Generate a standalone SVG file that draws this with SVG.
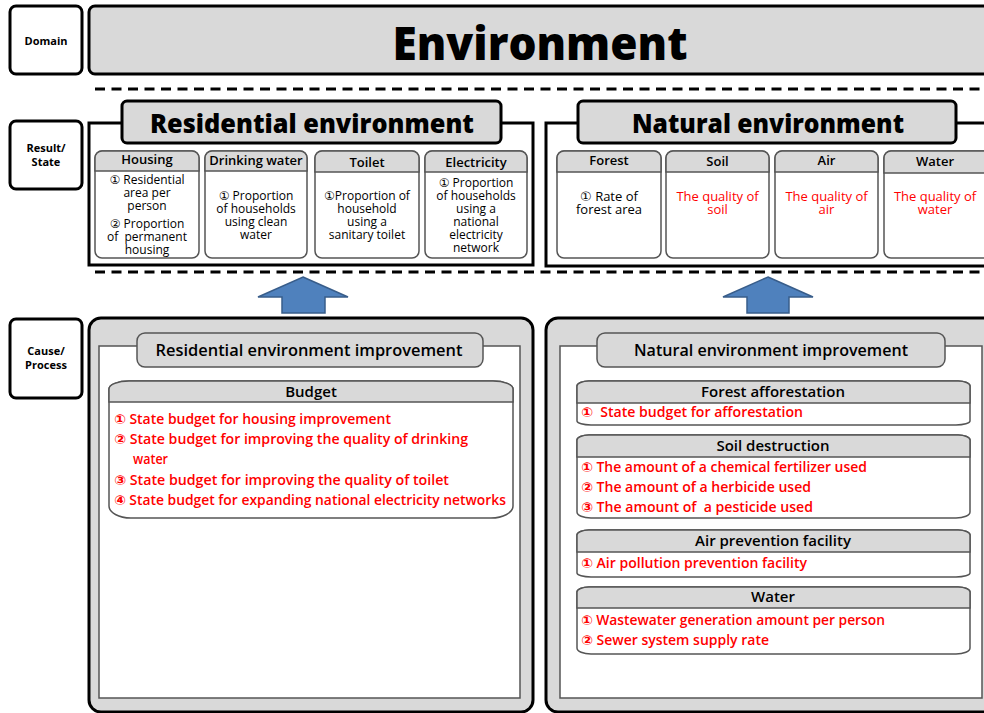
<svg xmlns="http://www.w3.org/2000/svg" width="984" height="713" viewBox="0 0 984 713">
<style>
text{font-family:"Open Sans","Noto Sans","DejaVu Sans","Noto Sans CJK KR",sans-serif;text-anchor:middle;fill:#000}
.lab{font-size:11px;font-weight:700}
.big{font-weight:800}
.hd{font-size:13px;font-weight:600}
.hd2{font-size:15px;font-weight:600}
.bd{font-size:12px;font-weight:500}
.bd13{font-size:13px;font-weight:500}
.red{fill:#ff0000}
.it{font-size:13.5px;font-weight:600;fill:#ff0000;text-anchor:start}
.sec{font-size:16.5px;font-weight:600}
.box{fill:#fff;stroke:#000;stroke-width:3}
.gbox{fill:#d9d9d9;stroke:#000;stroke-width:3}
.sub{fill:#fff;stroke:#555;stroke-width:1.5}
.subh{fill:#d9d9d9;stroke:#555;stroke-width:1.5}
.dash{stroke:#000;stroke-width:3;stroke-dasharray:10 6.5;fill:none}
.arrow{fill:#4f81bd;stroke:#385d8a;stroke-width:1.5}
</style>

<g id="domain-label"><rect class="box" x="10" y="6" width="72" height="68" rx="6"/><text class="lab" x="46" y="45">Domain</text></g>
<g id="environment"><rect class="gbox" x="89" y="6" width="920" height="68" rx="6"/><text class="big" x="540" y="60" font-size="46" textLength="295" lengthAdjust="spacingAndGlyphs">Environment</text></g>

<g id="separators">
<line class="dash" x1="95" y1="89" x2="984" y2="89"/>
<line class="dash" x1="95" y1="272" x2="984" y2="272"/>
</g>

<g id="result-label"><rect class="box" x="10" y="121" width="72" height="68" rx="6"/><text class="lab" x="46" y="152">Result/<tspan x="46" dy="14">State</tspan></text></g>

<g id="residential-environment">
<rect class="box" x="89" y="123" width="444" height="142"/>
<rect class="gbox" x="122" y="101" width="379" height="42" rx="5"/>
<text class="big" x="312" y="133" font-size="26" textLength="324" lengthAdjust="spacingAndGlyphs">Residential environment</text>
</g>

<g id="housing">
<rect class="sub" x="95" y="151" width="104" height="107" rx="7"/>
<path class="subh" d="M95,171 V158 a7,7 0 0 1 7,-7 H192 a7,7 0 0 1 7,7 V171 Z"/>
<text class="hd" x="147" y="164">Housing</text>
<text class="bd" x="147" y="184" xml:space="preserve">① Residential<tspan x="147" dy="13">area per</tspan><tspan x="147" dy="13">person</tspan><tspan x="147" dy="18">② Proportion</tspan><tspan x="147" dy="13">of  permanent</tspan><tspan x="147" dy="13">housing</tspan></text>
</g>
<g id="drinking-water">
<rect class="sub" x="205" y="151" width="102" height="107" rx="7"/>
<path class="subh" d="M205,171 V158 a7,7 0 0 1 7,-7 H300 a7,7 0 0 1 7,7 V171 Z"/>
<text class="hd" x="256" y="165">Drinking water</text>
<text class="bd" x="256" y="200">① Proportion<tspan x="256" dy="13">of households</tspan><tspan x="256" dy="13">using clean</tspan><tspan x="256" dy="13">water</tspan></text>
</g>
<g id="toilet">
<rect class="sub" x="315" y="151" width="104" height="107" rx="7"/>
<path class="subh" d="M315,172 V158 a7,7 0 0 1 7,-7 H412 a7,7 0 0 1 7,7 V172 Z"/>
<text class="hd" x="367" y="167">Toilet</text>
<text class="bd" x="367" y="200">①Proportion of<tspan x="367" dy="13">household</tspan><tspan x="367" dy="13">using a</tspan><tspan x="367" dy="13">sanitary toilet</tspan></text>
</g>
<g id="electricity">
<rect class="sub" x="425" y="151" width="102" height="107" rx="7"/>
<path class="subh" d="M425,172 V158 a7,7 0 0 1 7,-7 H520 a7,7 0 0 1 7,7 V172 Z"/>
<text class="hd" x="476" y="167">Electricity</text>
<text class="bd" x="476" y="187">① Proportion<tspan x="476" dy="13">of households</tspan><tspan x="476" dy="13">using a</tspan><tspan x="476" dy="13">national</tspan><tspan x="476" dy="13">electricity</tspan><tspan x="476" dy="13">network</tspan></text>
</g>

<g id="natural-environment">
<rect class="box" x="546" y="123" width="460" height="143"/>
<rect class="gbox" x="578" y="101" width="378" height="42" rx="5"/>
<text class="big" x="768" y="133" font-size="26" textLength="272" lengthAdjust="spacingAndGlyphs">Natural environment</text>
</g>

<g id="forest">
<rect class="sub" x="557" y="151" width="104" height="107" rx="7"/>
<path class="subh" d="M557,172 V158 a7,7 0 0 1 7,-7 H654 a7,7 0 0 1 7,7 V172 Z"/>
<text class="hd" x="609" y="165">Forest</text>
<text class="bd13" x="609" y="201">① Rate of<tspan x="609" dy="13">forest area</tspan></text>
</g>
<g id="soil">
<rect class="sub" x="666" y="151" width="103" height="107" rx="7"/>
<path class="subh" d="M666,172 V158 a7,7 0 0 1 7,-7 H762 a7,7 0 0 1 7,7 V172 Z"/>
<text class="hd" x="717.5" y="166">Soil</text>
<text class="bd13 red" x="717.5" y="201">The quality of<tspan x="717.5" dy="13">soil</tspan></text>
</g>
<g id="air">
<rect class="sub" x="775" y="151" width="103" height="107" rx="7"/>
<path class="subh" d="M775,172 V158 a7,7 0 0 1 7,-7 H871 a7,7 0 0 1 7,7 V172 Z"/>
<text class="hd" x="826.5" y="165">Air</text>
<text class="bd13 red" x="826.5" y="201">The quality of<tspan x="826.5" dy="13">air</tspan></text>
</g>
<g id="water">
<rect class="sub" x="884" y="151" width="110" height="107" rx="7"/>
<path class="subh" d="M884,173 V158 a7,7 0 0 1 7,-7 H987 a7,7 0 0 1 7,7 V173 Z"/>
<text class="hd" x="935" y="166">Water</text>
<text class="bd13 red" x="935" y="201">The quality of<tspan x="935" dy="13">water</tspan></text>
</g>

<g id="connectors">
<polygon class="arrow" points="303,277 348,297 325,297 325,313 282,313 282,297 258,297"/>
<polygon class="arrow" points="768,277 813,297 789,297 789,313 747,313 747,297 723,297"/>
</g>

<g id="cause-label"><rect class="box" x="10" y="319" width="72" height="79" rx="6"/><text class="lab" x="46" y="355">Cause/<tspan x="46" dy="14">Process</tspan></text></g>

<g id="residential-improvement">
<rect class="gbox" x="89" y="318" width="444" height="394" rx="12"/>
<rect x="99" y="346" width="421" height="352" fill="#fff" stroke="#555" stroke-width="1.5"/>
<rect x="137" y="333" width="346" height="34" rx="8" fill="#d9d9d9" stroke="#555" stroke-width="1.5"/>
<text class="sec" x="309" y="356" textLength="307" lengthAdjust="spacingAndGlyphs">Residential environment improvement</text>
</g>
<g id="budget">
<path d="M109,389 A20,8 0 0 1 129,381 H493 A20,8 0 0 1 513,389 V506 A22,12 0 0 1 491,518 H131 A22,12 0 0 1 109,506 Z" fill="#fff" stroke="#555" stroke-width="1.5"/>
<path d="M109,402 V389 A20,8 0 0 1 129,381 H493 A20,8 0 0 1 513,389 V402 Z" fill="#d9d9d9" stroke="#555" stroke-width="1.5"/>
<text class="hd2" x="311" y="397">Budget</text>
<text class="it" x="114" y="424" textLength="277" lengthAdjust="spacingAndGlyphs">① State budget for housing improvement</text>
<text class="it" x="114" y="444" textLength="354" lengthAdjust="spacingAndGlyphs">② State budget for improving the quality of drinking</text>
<text class="it" x="133" y="464" textLength="35" lengthAdjust="spacingAndGlyphs">water</text>
<text class="it" x="114" y="485" textLength="335" lengthAdjust="spacingAndGlyphs">③ State budget for improving the quality of toilet</text>
<text class="it" x="114" y="505" textLength="392" lengthAdjust="spacingAndGlyphs">④ State budget for expanding national electricity networks</text>
</g>

<g id="natural-improvement">
<rect class="gbox" x="546" y="318" width="460" height="394" rx="12"/>
<rect x="560" y="346" width="422" height="352" fill="#fff" stroke="#555" stroke-width="1.5"/>
<rect x="597" y="333" width="348" height="34" rx="8" fill="#d9d9d9" stroke="#555" stroke-width="1.5"/>
<text class="sec" x="771" y="356" textLength="274" lengthAdjust="spacingAndGlyphs">Natural environment improvement</text>
</g>
<g id="forest-afforestation">
<path d="M577,386 A12,5 0 0 1 589,381 H958 A12,5 0 0 1 970,386 V421 A14,4 0 0 1 956,425 H591 A14,4 0 0 1 577,421 Z" fill="#fff" stroke="#555" stroke-width="1.5"/>
<path d="M577,403 V386 A12,5 0 0 1 589,381 H958 A12,5 0 0 1 970,386 V403 Z" fill="#d9d9d9" stroke="#555" stroke-width="1.5"/>
<text class="hd2" x="773" y="397">Forest afforestation</text>
<text class="it" x="581" y="417" textLength="222" lengthAdjust="spacingAndGlyphs" xml:space="preserve">①  State budget for afforestation</text>
</g>
<g id="soil-destruction">
<path d="M577,440 A12,5 0 0 1 589,435 H958 A12,5 0 0 1 970,440 V512 A14,6 0 0 1 956,518 H591 A14,6 0 0 1 577,512 Z" fill="#fff" stroke="#555" stroke-width="1.5"/>
<path d="M577,457 V440 A12,5 0 0 1 589,435 H958 A12,5 0 0 1 970,440 V457 Z" fill="#d9d9d9" stroke="#555" stroke-width="1.5"/>
<text class="hd2" x="773" y="451">Soil destruction</text>
<text class="it" x="581" y="472" textLength="286" lengthAdjust="spacingAndGlyphs">① The amount of a chemical fertilizer used</text>
<text class="it" x="581" y="492" textLength="230" lengthAdjust="spacingAndGlyphs">② The amount of a herbicide used</text>
<text class="it" x="581" y="512" textLength="232" lengthAdjust="spacingAndGlyphs" xml:space="preserve">③ The amount of  a pesticide used</text>
</g>
<g id="air-prevention-facility">
<path d="M577,535 A12,5 0 0 1 589,530 H958 A12,5 0 0 1 970,535 V573 A14,4 0 0 1 956,577 H591 A14,4 0 0 1 577,573 Z" fill="#fff" stroke="#555" stroke-width="1.5"/>
<path d="M577,552 V535 A12,5 0 0 1 589,530 H958 A12,5 0 0 1 970,535 V552 Z" fill="#d9d9d9" stroke="#555" stroke-width="1.5"/>
<text class="hd2" x="773" y="546">Air prevention facility</text>
<text class="it" x="581" y="568" textLength="226" lengthAdjust="spacingAndGlyphs">① Air pollution prevention facility</text>
</g>
<g id="water-item">
<path d="M577,592 A12,5 0 0 1 589,587 H958 A12,5 0 0 1 970,592 V648 A14,6 0 0 1 956,654 H591 A14,6 0 0 1 577,648 Z" fill="#fff" stroke="#555" stroke-width="1.5"/>
<path d="M577,608 V592 A12,5 0 0 1 589,587 H958 A12,5 0 0 1 970,592 V608 Z" fill="#d9d9d9" stroke="#555" stroke-width="1.5"/>
<text class="hd2" x="773" y="602">Water</text>
<text class="it" x="581" y="625" textLength="304" lengthAdjust="spacingAndGlyphs">① Wastewater generation amount per person</text>
<text class="it" x="581" y="645" textLength="188" lengthAdjust="spacingAndGlyphs">② Sewer system supply rate</text>
</g>
</svg>
